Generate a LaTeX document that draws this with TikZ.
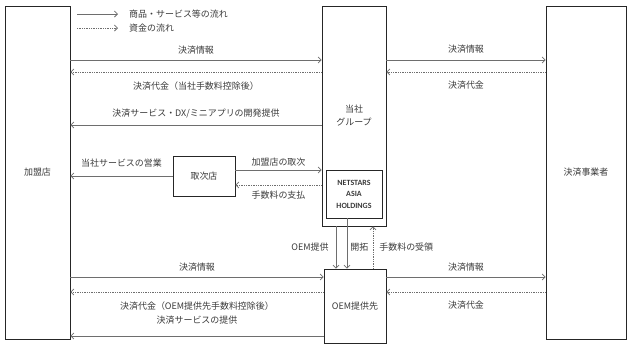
\documentclass[tikz,border=0pt]{standalone}
\usepackage{fontspec}
\setmainfont{Noto Sans CJK JP}
\newfontfamily\latinbold{Carlito}
\usetikzlibrary{arrows.meta,calc,positioning}
\definecolor{linegray}{HTML}{6E6E6E}
\definecolor{textgray}{HTML}{3A3A3A}

\begin{document}
\begin{tikzpicture}[x=1bp, y=-1bp,
  every node/.style={font=\fontsize{9}{13}\selectfont, text=textgray},
  party/.style={draw=black!85, line width=0.8bp, inner sep=0pt, align=center},
  flow/.style={draw=linegray, line width=0.75bp, -{Straight Barb[length=3bp,width=6bp]}},
  money/.style={flow, densely dotted},
  lbl/.style={inner sep=1bp}]

\useasboundingbox (0,0) rectangle (630,348);

% Soggetti del flusso
\node[party, minimum width=65bp, minimum height=333bp] (shop) at (37.5,172.5) {加盟店};
\node[party, minimum width=64bp, minimum height=220bp] (grp)  at (354,116)    {当社\\グループ};
\node[party, minimum width=80bp, minimum height=333bp] (psp)  at (586,172.5)  {決済事業者};
\node[party, minimum width=62bp, minimum height=74bp]  (oem)  at (355,306)    {OEM提供先};
\node[party, minimum width=62bp, minimum height=40bp]  (agent) at (204,176)   {取次店};
\node[party, minimum width=56bp, minimum height=48bp, font=\latinbold\bfseries\fontsize{8}{11.5}\selectfont]
  (nah) at (354,194) {NETSTARS\\ASIA\\HOLDINGS};

% Legenda
\node[lbl, anchor=west] (lgflow)  at (128,14) {商品・サービス等の流れ};
\node[lbl, anchor=west] (lgmoney) at (128,28) {資金の流れ};
\draw[flow]  (lgflow.west -| 77,0)  -- (lgflow.west -| 118,0);
\draw[money] (lgmoney.west -| 77,0) -- (lgmoney.west -| 118,0);

% Flussi superiori
\draw[flow]  (shop.east |- 0,60) -- node[lbl, yshift=10bp] {決済情報} (grp.west |- 0,60);
\draw[money] (grp.west |- 0,72)  -- node[lbl, yshift=-14bp] {決済代金（当社手数料控除後）} (shop.east |- 0,72);
\draw[flow]  (grp.west |- 0,125) -- node[lbl, yshift=11bp] {決済サービス・DX/ミニアプリの開発提供} (shop.east |- 0,125);
\draw[flow]  (grp.east |- 0,60)  -- node[lbl, yshift=11bp] {決済情報} (psp.west |- 0,60);
\draw[money] (psp.west |- 0,72)  -- node[lbl, yshift=-13bp] {決済代金} (grp.east |- 0,72);

% Tramite il取次店
\draw[flow]  (agent.west) -- node[lbl, yshift=13bp] {当社サービスの営業} (agent.west -| shop.east);
\draw[flow]  (agent.east |- 0,170) -- node[lbl, yshift=8bp] {加盟店の取次} (grp.west |- 0,170);
\draw[money] (grp.west |- 0,185)   -- node[lbl, yshift=-10bp] {手数料の支払} (agent.east |- 0,185);

% Verso OEM
\draw[flow]  (grp.south -| 336,0) -- node[lbl, left=6bp] {OEM提供} (oem.north -| 336,0);
\draw[flow]  (nah.south -| 347,0) -- node[lbl, right=2bp, pos=0.57] {開拓} (oem.north -| 347,0);
\draw[money] (oem.north -| 373,0) -- node[lbl, right=5bp] {手数料の受領} (grp.south -| 373,0);

% Flussi inferiori
\draw[flow]  (shop.east |- 0,277) -- node[lbl, yshift=10bp] {決済情報} (oem.west |- 0,277);
\draw[money] (oem.west |- 0,292)  -- node[lbl, yshift=-14bp] {決済代金（OEM提供先手数料控除後）} (shop.east |- 0,292);
\draw[flow]  (oem.west |- 0,336)  -- node[lbl, yshift=16bp] {決済サービスの提供} (shop.east |- 0,336);
\draw[flow]  (oem.east |- 0,277)  -- node[lbl, yshift=10bp] {決済情報} (psp.west |- 0,277);
\draw[money] (psp.west |- 0,292)  -- node[lbl, yshift=-13bp] {決済代金} (oem.east |- 0,292);

\end{tikzpicture}
\end{document}
